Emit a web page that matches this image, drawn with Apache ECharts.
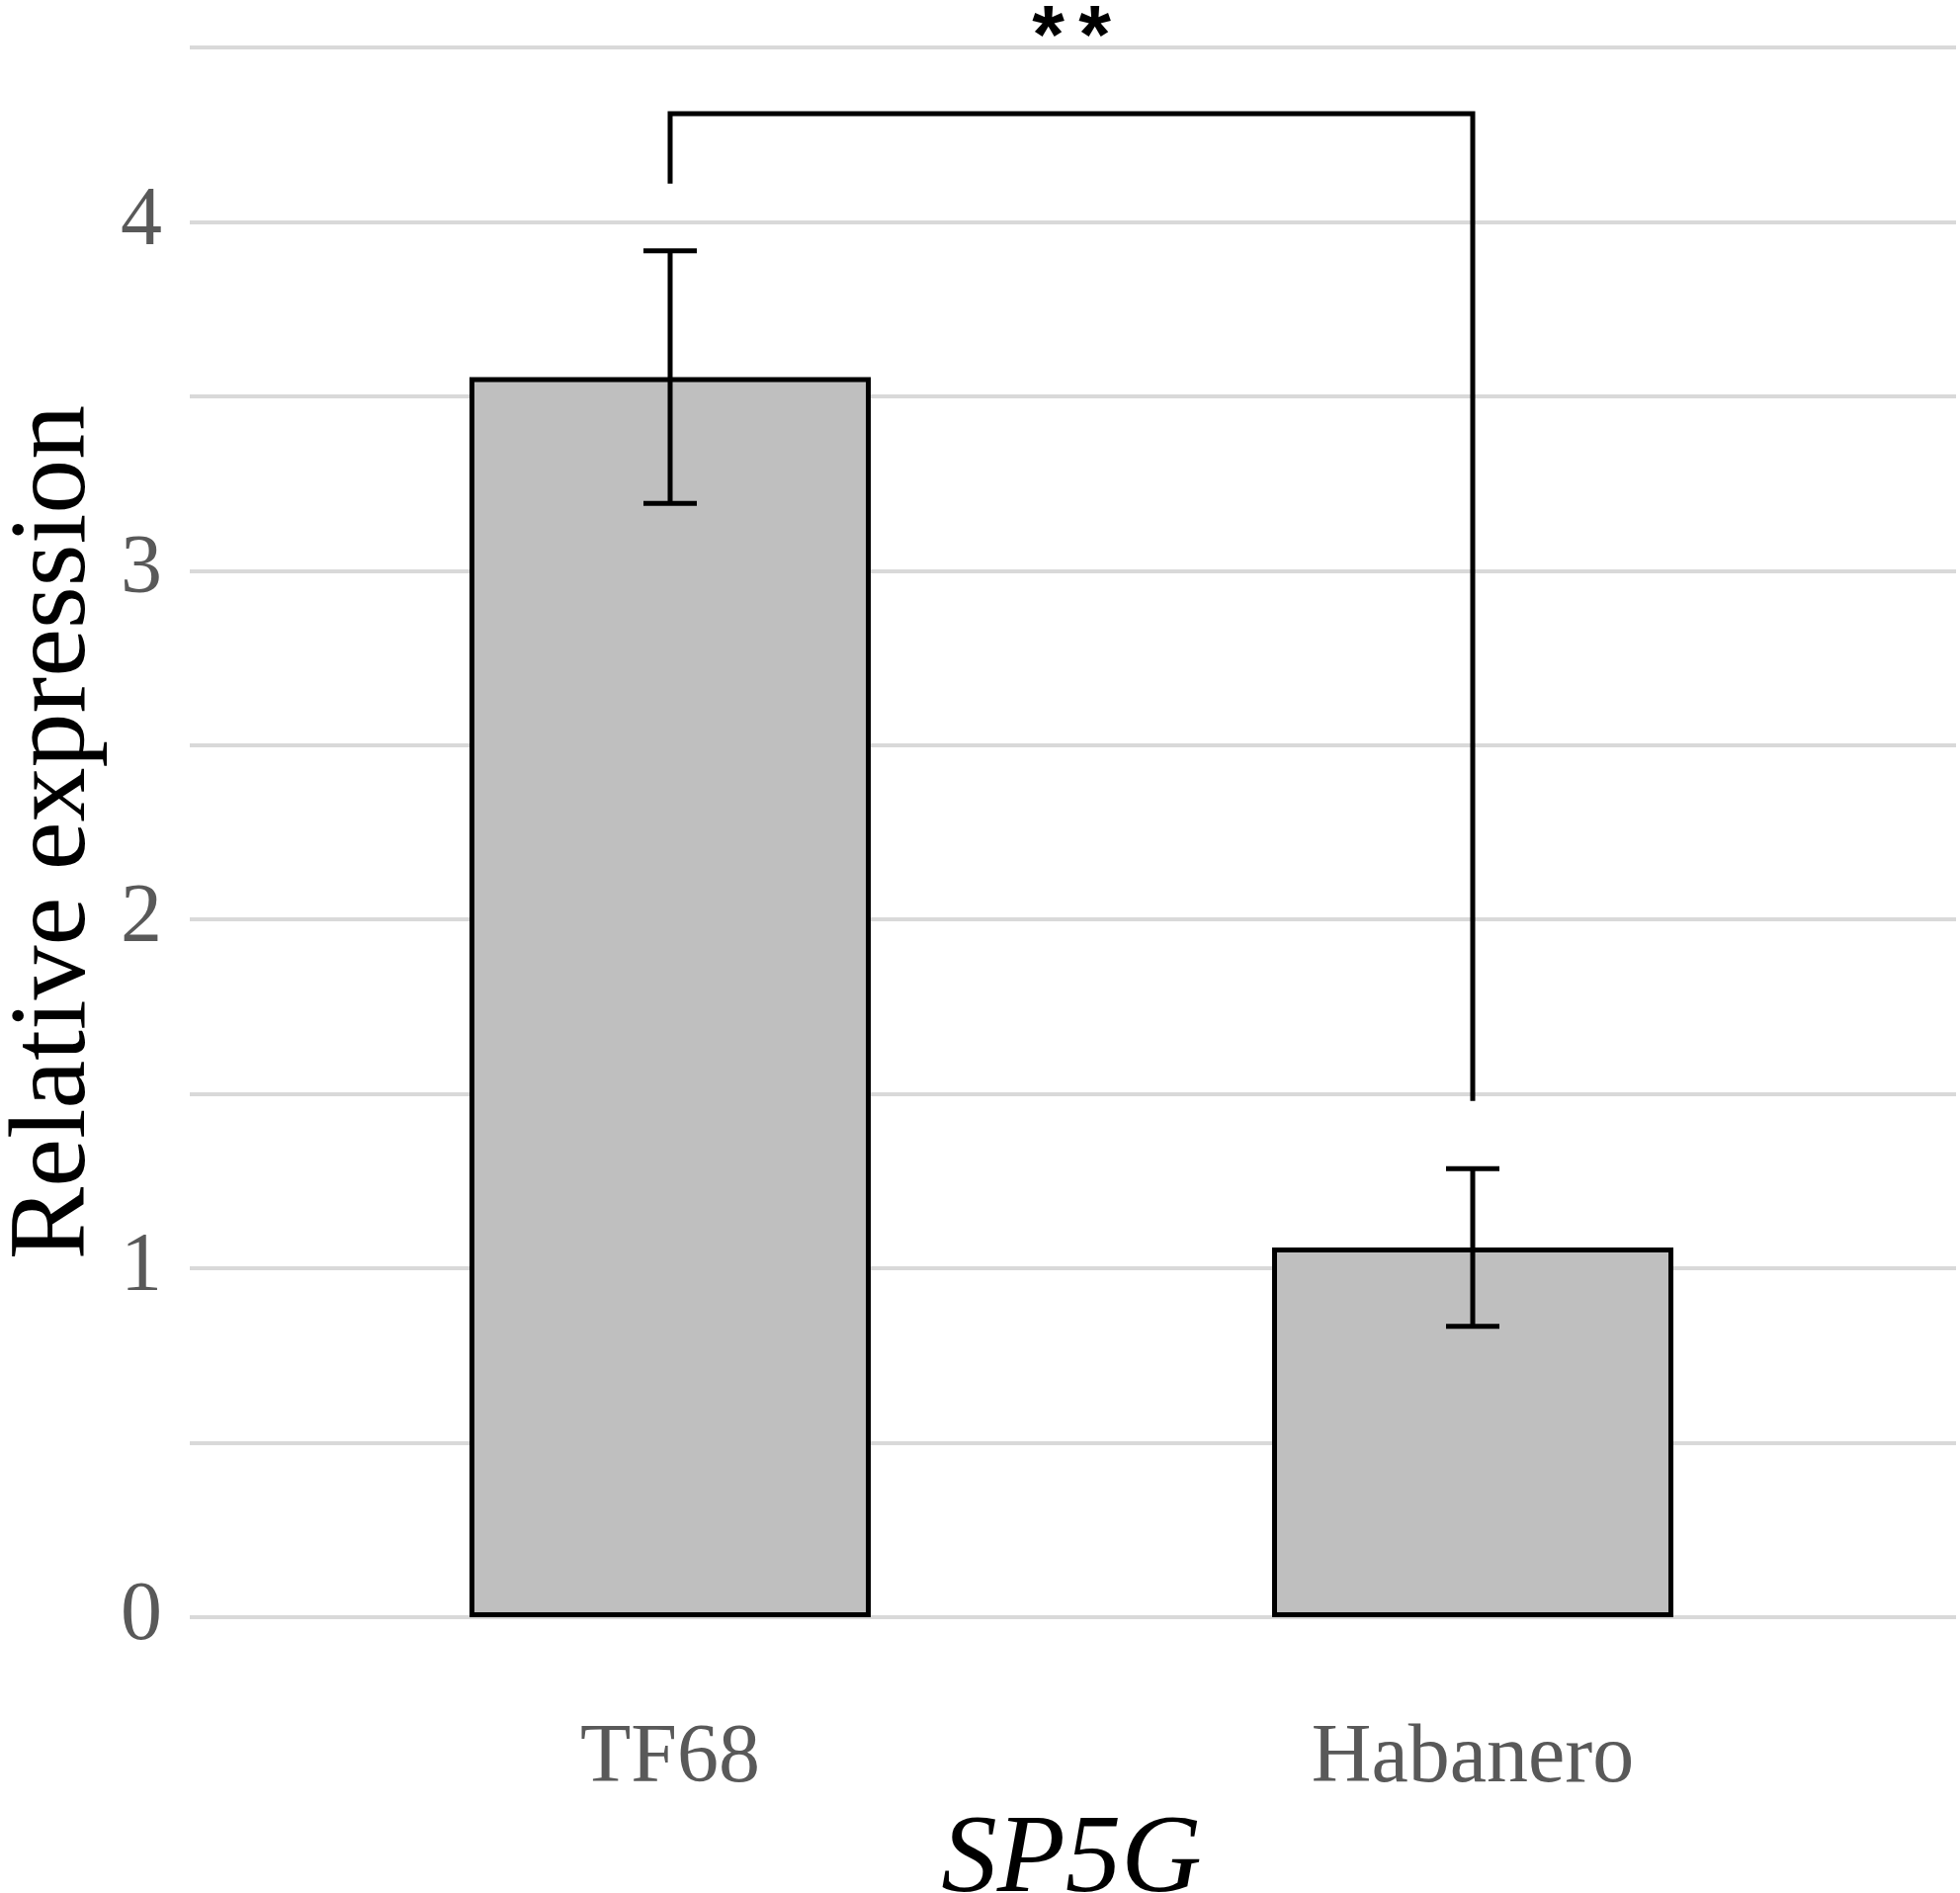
<!DOCTYPE html>
<html>
<head>
<meta charset="utf-8">
<script src="https://cdn.jsdelivr.net/npm/echarts@6/dist/echarts.min.js"></script>
<style>
  html, body { margin: 0; padding: 0; background: #fff; }
  #root { width: 1983px; height: 1915px; }
</style>
</head>
<body>
<div id="root"></div>
<script>
// data
var categories = ['TF68', 'Habanero'];
var means = [3.555, 1.06];
var errors = [0.362, 0.226];
var yTicks = [0, 1, 2, 3, 4];

// significance bracket: left leg end, bracket top, right leg end (y values)
var bracketLeftEnd = 4.11;
var bracketTop = 4.31;
var bracketRightEnd = 1.48;
var sigText = '**';
var sigY = 4.52;

var serif = 'Liberation Serif';

var errData = means.map(function(m, i) {
  return [i, m - errors[i], m + errors[i]];
});

function renderError(params, api) {
  var x = api.value(0);
  var lo = api.coord([x, api.value(1)]);
  var hi = api.coord([x, api.value(2)]);
  var half = 27;
  var st = {stroke: '#000', lineWidth: 5};
  return {
    type: 'group',
    children: [
      {type: 'line', shape: {x1: lo[0], y1: lo[1], x2: hi[0], y2: hi[1]}, style: st},
      {type: 'line', shape: {x1: lo[0] - half, y1: lo[1], x2: lo[0] + half, y2: lo[1]}, style: st},
      {type: 'line', shape: {x1: hi[0] - half, y1: hi[1], x2: hi[0] + half, y2: hi[1]}, style: st}
    ]
  };
}

function renderBracket(params, api) {
  var a = api.value(0), b = api.value(1);
  var p1 = api.coord([a, api.value(2)]);
  var p2 = api.coord([a, api.value(3)]);
  var p3 = api.coord([b, api.value(3)]);
  var p4 = api.coord([b, api.value(4)]);
  var mid = (p2[0] + p3[0]) / 2;
  var ty = api.coord([a, sigY])[1];
  // the two stars sit a bit apart, like the original
  var stars = sigText.split('').map(function(s, i, arr) {
    var off = (i - (arr.length - 1) / 2) * 47;
    return {
      type: 'text',
      style: {
        text: s, x: mid + off, y: ty,
        fontSize: 84, fontWeight: 'bold', fontFamily: 'Liberation Sans',
        fill: '#000', align: 'center', verticalAlign: 'middle'
      }
    };
  });
  return {
    type: 'group',
    children: [{
      type: 'polyline',
      shape: {points: [p1, p2, p3, p4]},
      style: {stroke: '#000', lineWidth: 5, fill: 'none'}
    }].concat(stars)
  };
}

var option = {
  animation: false,
  backgroundColor: '#fff',
  grid: [
    {left: 192, right: 4, top: 48, bottom: 279, outerBoundsMode: 'none'},
    {left: 272, right: 87, top: 48, bottom: 279, outerBoundsMode: 'none'}
  ],
  xAxis: [
    {gridIndex: 0, type: 'value', show: false, min: 0, max: 1},
    {
      gridIndex: 1,
      type: 'category',
      data: categories,
      axisLine: {show: false},
      axisTick: {show: false},
      axisLabel: {
        fontSize: 84, lineHeight: 84, color: '#595959', fontFamily: serif, margin: 102
      },
      name: 'SP5G',
      nameLocation: 'middle',
      nameGap: 182,
      nameTextStyle: {
        fontSize: 113, fontStyle: 'italic', color: '#000', fontFamily: serif, lineHeight: 113
      }
    }
  ],
  yAxis: [
    {
      gridIndex: 0,
      type: 'value',
      min: 0,
      max: 4.5,
      interval: 0.5,
      axisLine: {show: false},
      axisTick: {show: false},
      splitLine: {lineStyle: {color: '#d9d9d9', width: 4}},
      axisLabel: {
        fontSize: 84, color: '#595959', fontFamily: serif, margin: 28,
        formatter: function(v) {
          return yTicks.indexOf(v) >= 0 ? String(v) : '';
        }
      },
      name: 'Relative expression',
      nameLocation: 'middle',
      nameGap: 61,
      nameTextStyle: {fontSize: 110, color: '#000', fontFamily: serif, lineHeight: 110}
    },
    {gridIndex: 1, type: 'value', min: 0, max: 4.5, interval: 0.5, show: false}
  ],
  series: [
    {
      type: 'bar',
      xAxisIndex: 1,
      yAxisIndex: 1,
      data: means,
      barWidth: '50%',
      itemStyle: {color: '#bfbfbf', borderColor: '#000', borderWidth: 5}
    },
    {
      type: 'custom',
      xAxisIndex: 1,
      yAxisIndex: 1,
      renderItem: renderError,
      data: errData,
      z: 5
    },
    {
      type: 'custom',
      xAxisIndex: 1,
      yAxisIndex: 1,
      renderItem: renderBracket,
      data: [[0, 1, bracketLeftEnd, bracketTop, bracketRightEnd]],
      z: 5
    }
  ]
};

var myChart = echarts.init(document.getElementById('root'));
myChart.setOption(option);
</script>
</body>
</html>
